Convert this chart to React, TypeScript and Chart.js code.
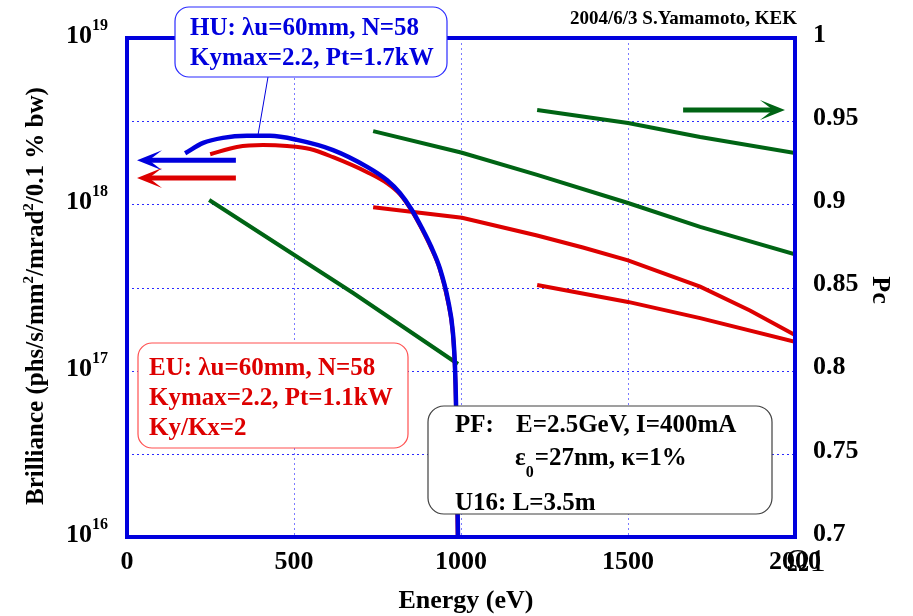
import React, { useEffect, useRef } from "react";
import { Chart, registerables } from "chart.js";
Chart.register(...registerables);

// ---- axis ticks ----
const energyTicks = [0, 500, 1000, 1500, 2000];
const energyTickLabels = ["0", "500", "1000", "1500", "2000"];
const brillianceTicks = [1e16, 1e17, 1e18, 1e19];
const brillianceExponents = ["16", "17", "18", "19"];
const pcTicks = [0.7, 0.75, 0.8, 0.85, 0.9, 0.95, 1];
const pcTickLabels = ["0.7", "0.75", "0.8", "0.85", "0.9", "0.95", "1"];
const energyGrid = [500, 1000, 1500];
const pcGrid = [0.75, 0.8, 0.85, 0.9, 0.95];

// ---- HU brilliance (1st harmonic) ----
const huEnergy = [174, 228, 287, 359, 428, 509, 617, 719, 778, 817, 853, 883, 910, 937, 961, 976, 982, 985, 991];
const huBrilliance = [2.03e18, 2.34e18, 2.51e18, 2.58e18, 2.58e18, 2.44e18, 2.12e18, 1.68e18, 1.4e18, 1.17e18, 9.25e17, 7.2e17, 5.6e17, 4.1e17, 2.66e17, 1.68e17, 1.05e17, 6.4e16, 1e16];

// ---- EU brilliance ----
const eu1Energy = [249, 329, 407, 479, 548, 617, 719, 778, 817, 853, 883, 910, 937, 961, 976, 982, 985, 990];
const eu1Brilliance = [2.0e18, 2.21e18, 2.27e18, 2.24e18, 2.15e18, 1.92e18, 1.56e18, 1.34e18, 1.15e18, 9.1e17, 7.1e17, 5.5e17, 4.05e17, 2.6e17, 1.64e17, 1.02e17, 6.2e16, 1e16];
const eu3Energy = [737, 1003, 1228, 1365, 1500, 1716, 1865, 2000];
const eu3Brilliance = [9.6e17, 8.3e17, 6.5e17, 5.5e17, 4.6e17, 3.2e17, 2.3e17, 1.64e17];
const eu5Energy = [1228, 1500, 1716, 2000];
const eu5Brilliance = [3.27e17, 2.59e17, 2.07e17, 1.49e17];

// ---- EU circular polarization Pc ----
const pc1Energy = [246, 677, 991];
const pc1Values = [0.9026, 0.8467, 0.804];
const pc3Energy = [737, 1003, 1228, 1500, 1716, 2000];
const pc3Values = [0.944, 0.931, 0.9177, 0.9008, 0.8864, 0.87];
const pc5Energy = [1228, 1500, 1716, 2000];
const pc5Values = [0.9567, 0.9489, 0.9405, 0.9309];

// ---- axis-indicating arrows (data coords) ----
const arrowTailEnergy = [326, 326, 1665];
const arrowTipEnergy = [30, 30, 1970];
const arrowLevel = [1.84e18, 1.44e18, 0.9567];
const arrowAxis = ["y", "y", "y1"];
const arrowColor = ["#0000dd", "#dd0000", "#006414"];

const BLUE = "#0000dd";
const RED = "#dd0000";
const GREEN = "#006414";
const FONT = '"Liberation Serif", "Times New Roman", serif';

export default function App() {
  const ref = useRef<HTMLCanvasElement>(null);

  useEffect(() => {
    document.body.style.margin = "0";
    const canvas = ref.current!;
    const pts = (xs: number[], ys: number[]) => xs.map((x, i) => ({ x, y: ys[i] }));

    const drawArrow = (ctx: CanvasRenderingContext2D, tipX: number, tailX: number, y: number, color: string) => {
      const dir = tailX > tipX ? 1 : -1;
      const headLen = 25;
      const half = 10;
      const notch = 12;
      ctx.save();
      ctx.strokeStyle = color;
      ctx.fillStyle = color;
      ctx.lineWidth = 5;
      ctx.beginPath();
      ctx.moveTo(tipX + dir * notch, y);
      ctx.lineTo(tailX, y);
      ctx.stroke();
      ctx.beginPath();
      ctx.moveTo(tipX, y);
      ctx.lineTo(tipX + dir * headLen, y - half);
      ctx.lineTo(tipX + dir * notch, y);
      ctx.lineTo(tipX + dir * headLen, y + half);
      ctx.closePath();
      ctx.fill();
      ctx.restore();
    };

    const box = (ctx: CanvasRenderingContext2D, x: number, y: number, w: number, h: number, r: number, stroke: string) => {
      ctx.save();
      ctx.beginPath();
      (ctx as any).roundRect(x, y, w, h, r);
      ctx.fillStyle = "#ffffff";
      ctx.fill();
      ctx.strokeStyle = stroke;
      ctx.lineWidth = 1.2;
      ctx.stroke();
      ctx.restore();
    };

    const overlay = {
      id: "overlay",
      beforeDatasetsDraw(chart: any) {
        const ctx: CanvasRenderingContext2D = chart.ctx;
        const { left, right, top, bottom } = chart.chartArea;
        const xs = chart.scales.x;
        const y1 = chart.scales.y1;
        ctx.save();
        ctx.lineWidth = 1;
        ctx.setLineDash([2, 3]);
        ctx.strokeStyle = "#2a2aff";
        for (const v of pcGrid) {
          const y = Math.round(y1.getPixelForValue(v)) + 0.5;
          ctx.beginPath();
          ctx.moveTo(left, y);
          ctx.lineTo(right, y);
          ctx.stroke();
        }
        ctx.strokeStyle = "#7a7aff";
        for (const v of energyGrid) {
          const x = Math.round(xs.getPixelForValue(v)) + 0.5;
          ctx.beginPath();
          ctx.moveTo(x, top);
          ctx.lineTo(x, bottom);
          ctx.stroke();
        }
        ctx.restore();
      },
      afterDatasetsDraw(chart: any) {
        const ctx: CanvasRenderingContext2D = chart.ctx;
        const { left, right, top, bottom } = chart.chartArea;
        const xs = chart.scales.x;

        // frame
        ctx.save();
        ctx.strokeStyle = BLUE;
        ctx.lineWidth = 4;
        ctx.strokeRect(left, top, right - left, bottom - top);
        ctx.restore();

        // arrows
        for (let i = 0; i < arrowTipEnergy.length; i++) {
          const sc = chart.scales[arrowAxis[i]];
          drawArrow(
            ctx,
            xs.getPixelForValue(arrowTipEnergy[i]),
            xs.getPixelForValue(arrowTailEnergy[i]),
            sc.getPixelForValue(arrowLevel[i]),
            arrowColor[i]
          );
        }

        ctx.save();
        ctx.textBaseline = "alphabetic";

        // HU label connector + box
        ctx.strokeStyle = BLUE;
        ctx.lineWidth = 1;
        ctx.beginPath();
        ctx.moveTo(268, 77);
        ctx.lineTo(258, 135);
        ctx.stroke();
        box(ctx, 175, 7, 272, 70, 14, "#2a2aff");
        ctx.fillStyle = BLUE;
        ctx.font = `bold 25px ${FONT}`;
        ctx.textAlign = "left";
        ctx.fillText("HU: λu=60mm, N=58", 190, 35);
        ctx.fillText("Kymax=2.2, Pt=1.7kW", 190, 65);

        // EU box
        box(ctx, 138, 343, 270, 105, 14, "#ff5050");
        ctx.fillStyle = RED;
        ctx.fillText("EU: λu=60mm, N=58", 149, 375);
        ctx.fillText("Kymax=2.2, Pt=1.1kW", 149, 405);
        ctx.fillText("Ky/Kx=2", 149, 435);

        // PF box
        box(ctx, 428, 406, 344, 108, 16, "#404040");
        ctx.fillStyle = "#000000";
        ctx.fillText("PF:", 455, 432);
        ctx.fillText("E=2.5GeV, I=400mA", 516, 432);
        ctx.fillText("ε", 515, 465);
        let cx = 515 + ctx.measureText("ε").width;
        ctx.font = `bold 16px ${FONT}`;
        ctx.fillText("0", cx, 477);
        cx += ctx.measureText("0").width + 1;
        ctx.font = `bold 25px ${FONT}`;
        ctx.fillText("=27nm, κ=1%", cx, 465);
        ctx.fillText("U16: L=3.5m", 455, 510);

        // date / author
        ctx.font = `bold 19px ${FONT}`;
        ctx.textAlign = "right";
        ctx.fillText("2004/6/3 S.Yamamoto, KEK", 797, 24);

        // left tick labels with exponents
        const yl = chart.scales.y;
        ctx.textAlign = "left";
        for (let i = 0; i < brillianceTicks.length; i++) {
          const y = yl.getPixelForValue(brillianceTicks[i]);
          ctx.font = `bold 26px ${FONT}`;
          ctx.fillText("10", 66, y + 5);
          const w = ctx.measureText("10").width;
          ctx.font = `bold 16px ${FONT}`;
          ctx.fillText(brillianceExponents[i], 66 + w, y - 8);
        }

        // left axis title (rotated)
        ctx.save();
        ctx.translate(43, 505);
        ctx.rotate(-Math.PI / 2);
        const parts: [string, boolean][] = [
          ["Brilliance (phs/s/mm", false],
          ["2", true],
          ["/mrad", false],
          ["2", true],
          ["/0.1 % bw)", false],
        ];
        let px = 0;
        for (const [t, sup] of parts) {
          ctx.font = sup ? `bold 15px ${FONT}` : `bold 25px ${FONT}`;
          ctx.fillText(t, px, sup ? -10 : 0);
          px += ctx.measureText(t).width;
        }
        ctx.restore();

        // bottom axis title
        ctx.font = `bold 26px ${FONT}`;
        ctx.textAlign = "center";
        ctx.fillText("Energy (eV)", 466, 608);

        // right axis title
        ctx.save();
        ctx.translate(880, 290);
        ctx.rotate(Math.PI / 2);
        ctx.textBaseline = "middle";
        ctx.fillText("Pc", 0, 0);
        ctx.restore();

        // stray glyph overlay near 2000
        ctx.font = `32px ${FONT}`;
        ctx.textAlign = "left";
        ctx.fillText("Ω1", 786, 571);

        ctx.restore();
      },
    };

    const lineDs = (label: string, data: any[], color: string, axis: string, smooth: boolean, width = 4) => ({
      label,
      data,
      borderColor: color,
      backgroundColor: color,
      borderWidth: width,
      pointRadius: 0,
      fill: false,
      yAxisID: axis,
      cubicInterpolationMode: smooth ? "monotone" : "default",
      tension: 0,
    });

    const chart = new Chart(canvas, {
      type: "line",
      data: {
        datasets: [
          lineDs("HU 1st", pts(huEnergy, huBrilliance), BLUE, "y", true, 4.5),
          lineDs("EU 1st", pts(eu1Energy, eu1Brilliance), RED, "y", true),
          lineDs("EU 3rd", pts(eu3Energy, eu3Brilliance), RED, "y", false),
          lineDs("EU 5th", pts(eu5Energy, eu5Brilliance), RED, "y", false),
          lineDs("Pc 1st", pts(pc1Energy, pc1Values), GREEN, "y1", false),
          lineDs("Pc 3rd", pts(pc3Energy, pc3Values), GREEN, "y1", false),
          lineDs("Pc 5th", pts(pc5Energy, pc5Values), GREEN, "y1", false),
        ] as any,
      },
      options: {
        responsive: false,
        maintainAspectRatio: false,
        devicePixelRatio: 1,
        animation: false,
        layout: { padding: { top: 38, left: 0, right: 0, bottom: 0 } },
        plugins: { legend: { display: false }, tooltip: { enabled: false } },
        scales: {
          x: {
            type: "linear",
            min: 0,
            max: 2000,
            afterBuildTicks: (s: any) => {
              s.ticks = energyTicks.map((v) => ({ value: v }));
            },
            afterFit: (s: any) => {
              s.height = 79;
            },
            grid: { display: false, drawTicks: false },
            border: { display: false },
            ticks: {
              autoSkip: false,
              maxRotation: 0,
              padding: 10,
              color: "#000000",
              font: { family: FONT, size: 26, weight: "bold" },
              callback: (_v: any, i: number) => energyTickLabels[i],
            },
          },
          y: {
            type: "logarithmic",
            position: "left",
            min: 1e16,
            max: 1e19,
            afterBuildTicks: (s: any) => {
              s.ticks = brillianceTicks.map((v) => ({ value: v }));
            },
            afterFit: (s: any) => {
              s.width = 127;
            },
            grid: { display: false, drawTicks: false },
            border: { display: false },
            ticks: { callback: () => "", color: "rgba(0,0,0,0)" },
          },
          y1: {
            type: "linear",
            position: "right",
            min: 0.7,
            max: 1,
            afterBuildTicks: (s: any) => {
              s.ticks = pcTicks.map((v) => ({ value: v }));
            },
            afterFit: (s: any) => {
              s.width = 118;
            },
            grid: { display: false, drawTicks: false },
            border: { display: false },
            ticks: {
              padding: 18,
              labelOffset: -3,
              color: "#000000",
              font: { family: FONT, size: 26, weight: "bold" },
              callback: (_v: any, i: number) => pcTickLabels[i],
            },
          },
        },
      } as any,
      plugins: [overlay],
    });
    return () => chart.destroy();
  }, []);

  return (
    <div style={{ position: "absolute", left: 0, top: 0, width: 913, height: 616 }}>
      <canvas ref={ref} width={913} height={616} style={{ display: "block", width: 913, height: 616 }} />
    </div>
  );
}
